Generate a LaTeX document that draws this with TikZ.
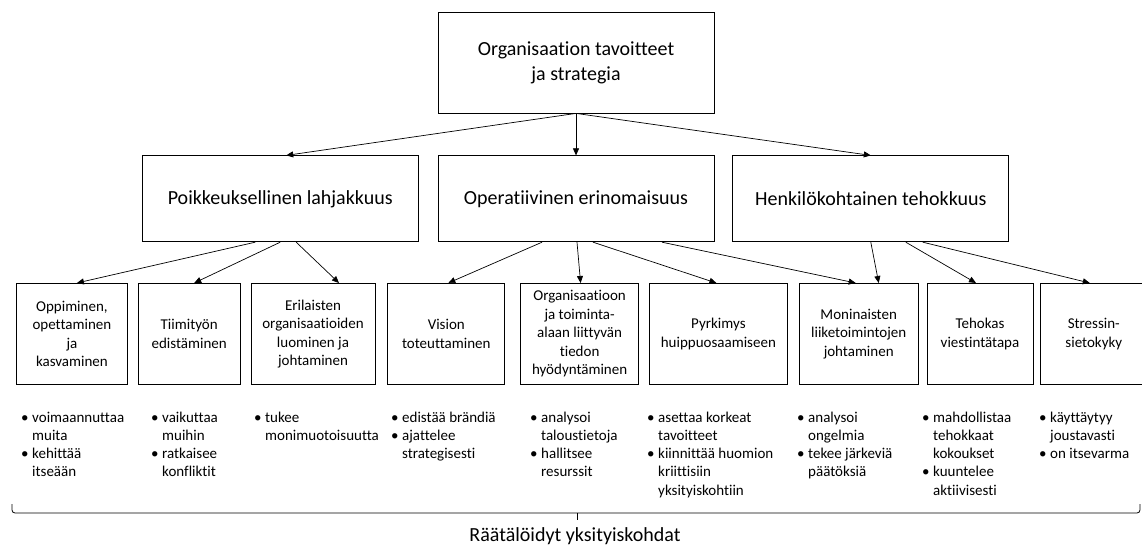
\documentclass[tikz,border=0pt]{standalone}
\usepackage{fontspec}
\setmainfont{Carlito}[Ligatures=NoCommon]
\usetikzlibrary{arrows.meta, positioning}

\newcommand{\bul}{\makebox[11pt][l]{\textbullet}}

\begin{document}
\begin{tikzpicture}[x=1pt, y=-1pt,
    % --- node styles ---
    topbox/.style={rectangle, draw=black, line width=0.8pt, minimum width=276pt,
        minimum height=101pt, align=center, inner sep=2pt,
        font=\fontsize{20}{25}\selectfont},
    midbox/.style={rectangle, draw=black, line width=0.8pt, minimum width=276pt,
        minimum height=86pt, align=center, inner sep=2pt,
        font=\fontsize{20}{25}\selectfont},
    leaf/.style={rectangle, draw=black, line width=0.8pt, minimum height=101pt,
        align=center, inner sep=1pt, font=\fontsize{15}{18.5}\selectfont},
    notes/.style={anchor=base west, inner sep=0pt,
        font=\fontsize{15}{18.3}\selectfont},
    % --- arrow styles ---
    arr/.style={-{Triangle[length=7pt, width=6pt]}, line width=0.7pt},
    node distance=10pt
]
\useasboundingbox (0,0) rectangle (1142,545);

%%% ================= ROW 0: GOAL =================
\node (goal) [topbox] at (576,62.5) {Organisaation tavoitteet\\ja strategia};

%%% ================= ROW 1: THREE AREAS =================
\node (oper)   [midbox, below=42pt of goal] {Operatiivinen erinomaisuus};
\node (talent) [midbox, left=19pt of oper]  {Poikkeuksellinen lahjakkuus};
\node (pers)   [midbox, right=18pt of oper] {Henkilökohtainen tehokkuus};

%%% ================= ROW 2: COMPETENCES =================
\node (b1) [leaf, minimum width=111pt, anchor=north west] at (16,283)
    {Oppiminen,\\opettaminen\\ja\\kasvaminen};
\node (b2) [leaf, minimum width=102pt, right=10pt of b1] {Tiimityön\\edistäminen};
\node (b3) [leaf, minimum width=124pt, right=10pt of b2]
    {Erilaisten\\organisaatioiden\\luominen ja\\johtaminen};
\node (b4) [leaf, minimum width=117pt, right=12pt of b3] {Vision\\toteuttaminen};
\node (b5) [leaf, minimum width=118pt, right=15pt of b4]
    {Organisaatioon\\ja toiminta-\\alaan liittyvän\\tiedon\\hyödyntäminen};
\node (b6) [leaf, minimum width=138pt, right=10pt of b5] {Pyrkimys\\huippuosaamiseen};
\node (b7) [leaf, minimum width=119pt, right=11pt of b6]
    {Moninaisten\\liiketoimintojen\\johtaminen};
\node (b8) [leaf, minimum width=106pt, right=8pt of b7] {Tehokas\\viestintätapa};
\node (b9) [leaf, minimum width=106pt, right=7pt of b8] {Stressin-\\sietokyky};

%%% ================= ROW 3: DETAILS =================
\node (n1) [notes] at (21,422) {\begin{tabular}[t]{@{}l@{}l@{}}
    \bul & voimaannuttaa\\ & muita\\ \bul & kehittää\\ & itseään\end{tabular}};
\node (n2) [notes] at (151,422) {\begin{tabular}[t]{@{}l@{}l@{}}
    \bul & vaikuttaa\\ & muihin\\ \bul & ratkaisee\\ & konfliktit\end{tabular}};
\node (n3) [notes] at (254,422) {\begin{tabular}[t]{@{}l@{}l@{}}
    \bul & tukee\\ & monimuotoisuutta\end{tabular}};
\node (n4) [notes] at (391,422) {\begin{tabular}[t]{@{}l@{}l@{}}
    \bul & edistää brändiä\\ \bul & ajattelee\\ & strategisesti\end{tabular}};
\node (n5) [notes] at (530,422) {\begin{tabular}[t]{@{}l@{}l@{}}
    \bul & analysoi\\ & taloustietoja\\ \bul & hallitsee\\ & resurssit\end{tabular}};
\node (n6) [notes] at (647,422) {\begin{tabular}[t]{@{}l@{}l@{}}
    \bul & asettaa korkeat\\ & tavoitteet\\ \bul & kiinnittää huomion\\
    & kriittisiin\\ & yksityiskohtiin\end{tabular}};
\node (n7) [notes] at (797,422) {\begin{tabular}[t]{@{}l@{}l@{}}
    \bul & analysoi\\ & ongelmia\\ \bul & tekee järkeviä\\ & päätöksiä\end{tabular}};
\node (n8) [notes] at (922,422) {\begin{tabular}[t]{@{}l@{}l@{}}
    \bul & mahdollistaa\\ & tehokkaat\\ & kokoukset\\ \bul & kuuntelee\\
    & aktiivisesti\end{tabular}};
\node (n9) [notes] at (1039,422) {\begin{tabular}[t]{@{}l@{}l@{}}
    \bul & käyttäytyy\\ & joustavasti\\ \bul & on itsevarma\end{tabular}};

%%% ================= BRACE + LABEL =================
\coordinate (brL) at (12,504);
\coordinate (brR) at (1140,504);
\coordinate (brM) at (577,513);
\coordinate (brTip) at (577,520);
\draw [rounded corners=3pt, line width=0.8pt] (brL) |- (brM) -| (brR);
\draw [line width=0.8pt] (brM) -- (brTip);
\node (summary) [anchor=base, inner sep=0pt, font=\fontsize{20}{24}\selectfont]
    at (575,541) {Räätälöidyt yksityiskohdat};

%%% ================= ARROWS =================
%% Goal to areas
\draw [arr] (goal.south) -- ([xshift=6pt]talent.north);
\draw [arr] (goal.south) -- (oper.north);
\draw [arr] (goal.south) -- (pers.north);

%% Areas to competences
\draw [arr] ([xshift=-25pt]talent.south) -- ([xshift=5pt]b1.north);
\draw [arr] (talent.south) -- ([xshift=5pt]b2.north);
\draw [arr] ([xshift=16pt]talent.south) -- ([xshift=26pt]b3.north);
\draw [arr] ([xshift=-34pt]oper.south) -- ([xshift=2pt]b4.north);
\draw [arr] ([xshift=1pt]oper.south) -- ([xshift=1pt]b5.north);
\draw [arr] ([xshift=17pt]oper.south) -- ([xshift=-2pt]b6.north);
\draw [arr] ([xshift=86pt]oper.south) -- ([xshift=-3pt]b7.north);
\draw [arr] (pers.south) -- ([xshift=20pt]b7.north);
\draw [arr] ([xshift=35pt]pers.south) -- ([xshift=-4pt]b8.north);
\draw [arr] ([xshift=52pt]pers.south) -- ([xshift=-4pt]b9.north);

\end{tikzpicture}
\end{document}
